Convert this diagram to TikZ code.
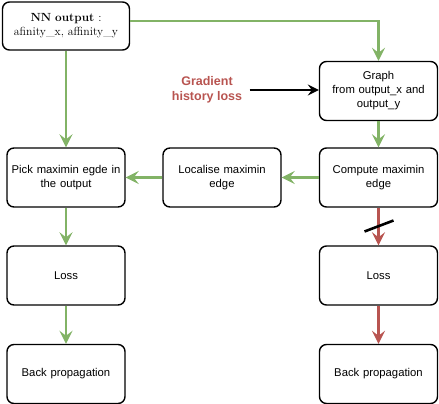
\documentclass[tikz,border=0pt]{standalone}
\usepackage{fontspec}
\setsansfont{Liberation Sans}
\usepackage{tikz}
\usetikzlibrary{arrows.meta}
\definecolor{flowgreen}{HTML}{82B366}
\definecolor{flowred}{HTML}{B85450}
\tikzset{
    step box/.style = {draw, line width=1.4pt, rounded corners=7pt, align=center,
        minimum width=118pt, minimum height=59pt, text width=110pt,
        font=\sffamily\fontsize{11.3}{14}\selectfont},
    good flow/.style = {draw=flowgreen, line width=2.4pt, -{Stealth[length=13pt, width=13pt, inset=5pt]}},
    bad flow/.style = {draw=flowred, line width=2.4pt, -{Stealth[length=13pt, width=13pt, inset=5pt]}},
    side flow/.style = {draw=black, line width=1.5pt, -{Stealth[length=11pt, width=11pt, inset=4pt]}},
    cut mark/.style = {draw=black, line width=2.6pt}
}
\begin{document}
\begin{tikzpicture}[x=1pt, y=-1pt]
        \useasboundingbox (0, 0) rectangle (439, 404);
        % network output
        \node[step box, minimum width=127pt, minimum height=48pt, text width=120pt,
            font=\fontsize{11.8}{14}\selectfont] (nn) at (66, 26)
            {\textbf{NN output} :\\ afinity\_x, affinity\_y};
        % right column
        \node[step box] (graph) at (378.5, 91) {Graph\\ from output\_x and\\ output\_y};
        \node[step box] (compute) at (378.5, 177.5) {Compute maximin\\ edge};
        \node[step box] (lossR) at (378.5, 275.5) {Loss};
        \node[step box] (backR) at (378.5, 374) {Back propagation};
        % middle
        \node[step box] (localise) at (222, 177.5) {Localise maximin\\ edge};
        % left column
        \node[step box] (pick) at (66, 177.5) {Pick maximin egde in\\ the output};
        \node[step box] (lossL) at (66, 275.5) {Loss};
        \node[step box] (backL) at (66, 374) {Back propagation};
        % label
        \node[align=center, text=flowred, font=\sffamily\bfseries\fontsize{12.5}{15}\selectfont] (gradient) at (207, 90)
            {Gradient\\ history loss};
        % green flow
        \draw[good flow] ([yshift=5pt]nn.east) -| (graph.north);
        \draw[good flow] (nn.south) -- (pick.north);
        \draw[good flow] (graph.south) -- (compute.north);
        \draw[good flow] (compute.west) -- (localise.east);
        \draw[good flow] (localise.west) -- (pick.east);
        \draw[good flow] (pick.south) -- (lossL.north);
        \draw[good flow] (lossL.south) -- (backL.north);
        % red flow
        \draw[bad flow] (compute.south) -- coordinate[pos=0.5] (cut) (lossR.north);
        \draw[bad flow] (lossR.south) -- (backR.north);
        % cut on the red arrow
        \draw[cut mark] ([shift={(-14pt, -5pt)}]cut) -- ([shift={(15pt, 6pt)}]cut);
        % gradient arrow
        \draw[side flow] ([xshift=4pt]gradient.east) -- (gradient.east -| graph.west);
    \end{tikzpicture}
\end{document}
